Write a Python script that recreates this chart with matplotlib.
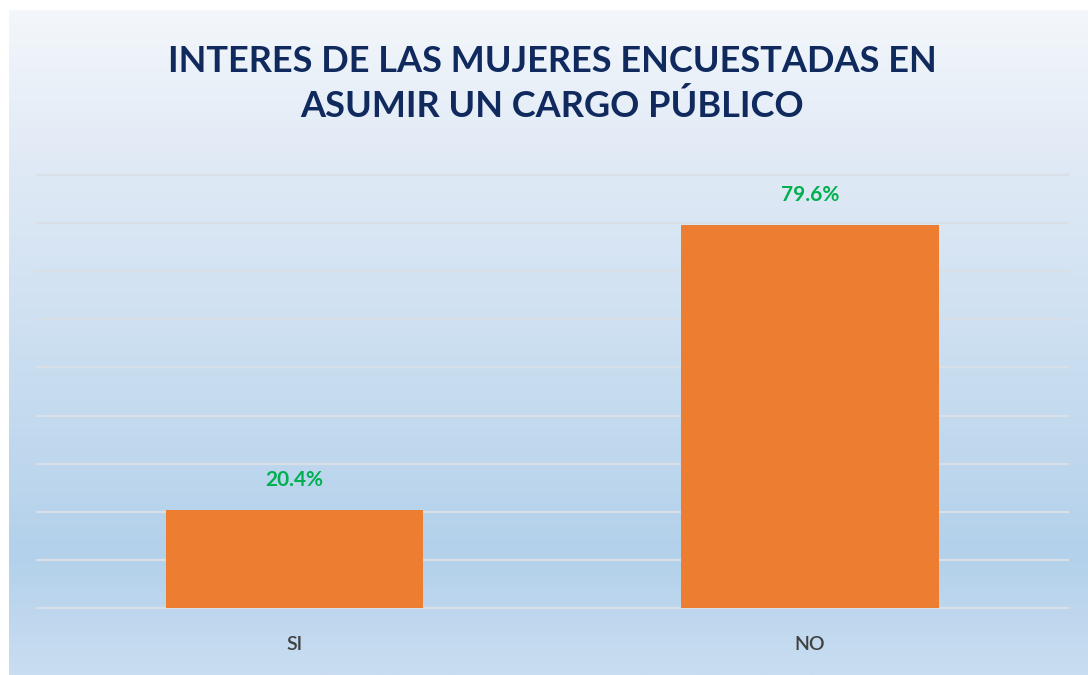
import numpy as np
import matplotlib.pyplot as plt
from matplotlib.colors import LinearSegmentedColormap

categories = ["SI", "NO"]
values = [20.4, 79.6]
value_labels = ["20.4%", "79.6%"]
title = "INTERES DE LAS MUJERES ENCUESTADAS EN\nASUMIR UN CARGO PÚBLICO"

W, H = 1088, 675
fig = plt.figure(figsize=(W / 100, H / 100), dpi=100)
fig.patch.set_facecolor("white")

# gradient background
bg = fig.add_axes([9 / W, 0, 1 - 9 / W, 665 / H], zorder=0)
cmap = LinearSegmentedColormap.from_list(
    "bg",
    [(0.0, "#F3F7FB"), (0.2, "#E2EBF6"), (0.45, "#D0E1F2"),
     (0.82, "#B3D1EB"), (1.0, "#C9DDF1")])
grad = np.linspace(0, 1, 256).reshape(-1, 1)
bg.imshow(grad, aspect="auto", cmap=cmap, extent=[0, 1, 0, 1], origin="upper")
bg.set_axis_off()

ax = fig.add_axes([36.75 / W, (H - 608) / H, (1067.75 - 36.75) / W, (608 - 175) / H], zorder=1)
ax.patch.set_alpha(0)
x = np.arange(len(categories))
bars = ax.bar(x, values, width=0.5, color="#ED7D31", zorder=3)
ax.set_xlim(-0.5, 1.5)
ax.set_ylim(0, 90)
ax.set_yticks(np.arange(0, 91, 10))
ax.yaxis.grid(True, color="#D9DFE7", linewidth=1.6, zorder=1)
for gl in ax.get_ygridlines():
    gl.set_clip_on(False)
ax.tick_params(axis="y", left=False, labelleft=False)
ax.set_xticks(x)
ax.set_xticklabels(categories, fontsize=14, color="#404040", family="Lato",
                   fontweight="semibold")
ax.tick_params(axis="x", length=0, pad=20)
for s in ax.spines.values():
    s.set_visible(False)

for xi, v, lab in zip(x, values, value_labels):
    ax.annotate(lab, (xi, v), xytext=(0, 17), textcoords="offset points",
                ha="center", va="baseline", fontsize=15, fontweight="bold",
                color="#00B050", family="Lato")

fig.text(552 / W, 1 - 84 / H, title, ha="center", va="center", fontsize=26,
         fontweight="bold", color="#102A5E", family="Lato", linespacing=1.4)

fig.savefig("out.png", dpi=100)
